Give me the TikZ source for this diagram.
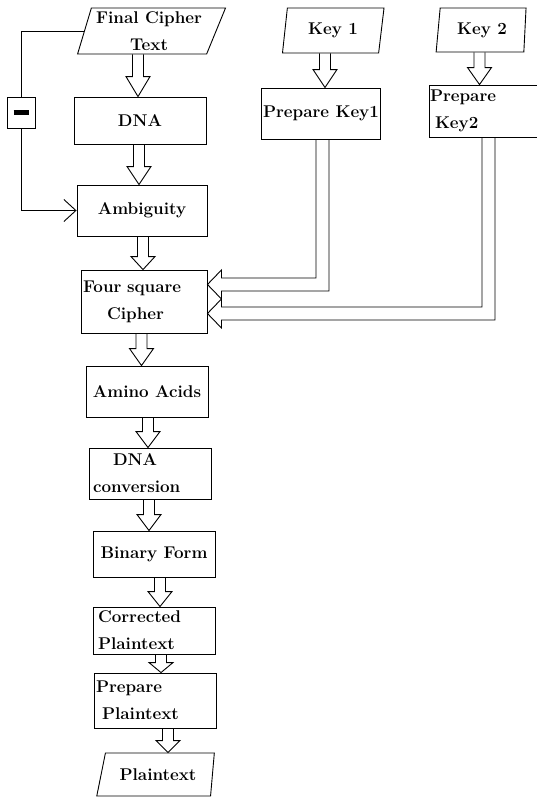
\documentclass[tikz,border=0pt]{standalone}
\usepackage{amsmath}
\usetikzlibrary{arrows.meta,shapes,positioning,calc}
\usetikzlibrary{shapes.geometric}

% hollow block arrow: from, to, x offset at target, head length
\newcommand{\blockdown}[4]{%
  \draw let \p1=(#1.south), \p3=($(#2.north)+(#3,0)$) in
    (\x3-5.5pt,\y1) -- (\x3-5.5pt,\y3+#4pt) -- (\x3-12pt,\y3+#4pt) -- (\x3,\y3)
    -- (\x3+12pt,\y3+#4pt) -- (\x3+5.5pt,\y3+#4pt) -- (\x3+5.5pt,\y1);}
% double line from a key box into the cipher box
\newcommand{\keyfeed}[5]{%
  \draw let \p1=($(#1.south)+(#2,0)$), \p2=($(#1.south)+(#3,0)$), \p3=(four.east) in
    (\p1) -- (\x1,-#4pt) -- (\x3+14pt,-#4pt) -- (\x3+14pt,-#4pt+8pt)
    -- (\x3,{-(#4+#5)/2*1pt}) -- (\x3+14pt,-#5pt-8pt) -- (\x3+14pt,-#5pt)
    -- (\x2,-#5pt) -- (\p2);}

\begin{document}
\begin{tikzpicture}[x=1pt,y=-1pt,line width=0.9pt,
    box/.style={draw,rectangle,inner sep=0pt,align=center,
      font=\bfseries\fontsize{17}{27}\selectfont},
    io/.style={box,trapezium,trapezium stretches=true}]
    \useasboundingbox (0,0) rectangle (536,798);
    \node[io,minimum width=148pt,minimum height=46pt,trapezium left angle=72,trapezium right angle=114](cipher) at (149,31){Final Cipher\\Text};
    \node[io,minimum width=102pt,minimum height=45pt,trapezium left angle=80,trapezium right angle=101](key1) at (333,30.5){Key 1};
    \node[io,minimum width=90pt,minimum height=44pt,trapezium left angle=81,trapezium right angle=95](key2) at (482,30){Key 2};
    \node[box,minimum width=132pt,minimum height=47pt](dna) at (140,120.5){DNA};
    \node[box,minimum width=130pt,minimum height=51pt](ambig) at (142,210.5){Ambiguity};
    \node[box,minimum width=119pt,minimum height=51pt](pk1) at (321,113.5){Prepare Key1};
    \node[box,align=left,text width=109pt,inner xsep=1pt,minimum height=52pt](pk2) at (484.5,111){Prepare\\\hspace*{5pt}Key2};
    \node[box,align=left,text width=122pt,inner xsep=2pt,minimum height=63pt](four) at (144,301.5){Four square\\\hspace*{24pt}Cipher};
    \node[box,minimum width=122pt,minimum height=51pt](amino) at (147,391.5){Amino Acids};
    \node[box,align=left,text width=114pt,inner xsep=4pt,minimum height=51pt](dnaconv) at (150,473.5){\hspace*{20pt}DNA\\conversion};
    \node[box,minimum width=122pt,minimum height=46pt](binary) at (154,554){Binary Form};
    \node[box,align=left,text width=112pt,inner xsep=5pt,minimum height=47pt](corrected) at (154,630.5){Corrected\\Plaintext};
    \node[box,align=left,text width=118pt,inner xsep=2pt,minimum height=55pt](prepplain) at (155,700.5){Prepare\\\hspace*{6pt}Plaintext};
    \node[io,minimum width=118pt,minimum height=43pt,trapezium left angle=62,trapezium right angle=103](plain) at (158,774.5){Plaintext};
    \node[draw,fill=white,inner sep=0pt,minimum width=28pt,minimum height=31pt](minus) at (21,112.5){\rule{15pt}{5pt}};

    \blockdown{cipher}{dna}{-2}{20}
    \blockdown{dna}{ambig}{-3}{18}
    \blockdown{ambig}{four}{-1}{13}
    \blockdown{four}{amino}{-5.5}{17}
    \blockdown{amino}{dnaconv}{-2}{16}
    \blockdown{dnaconv}{binary}{-5}{16}
    \blockdown{binary}{corrected}{6}{15}
    \blockdown{corrected}{prepplain}{6}{10}
    \blockdown{prepplain}{plain}{10}{12}
    \blockdown{key1}{pk1}{4}{18}
    \blockdown{key2}{pk2}{-5}{17}

    \keyfeed{pk1}{-5}{8}{278}{291}
    \keyfeed{pk2}{-2.5}{10.5}{307}{320}

    \draw (cipher.west) -| (minus.north);
    \draw[-{Straight Barb[length=12pt,width=22pt]}] (minus.south) |- (ambig.west);
\end{tikzpicture}
\end{document}
